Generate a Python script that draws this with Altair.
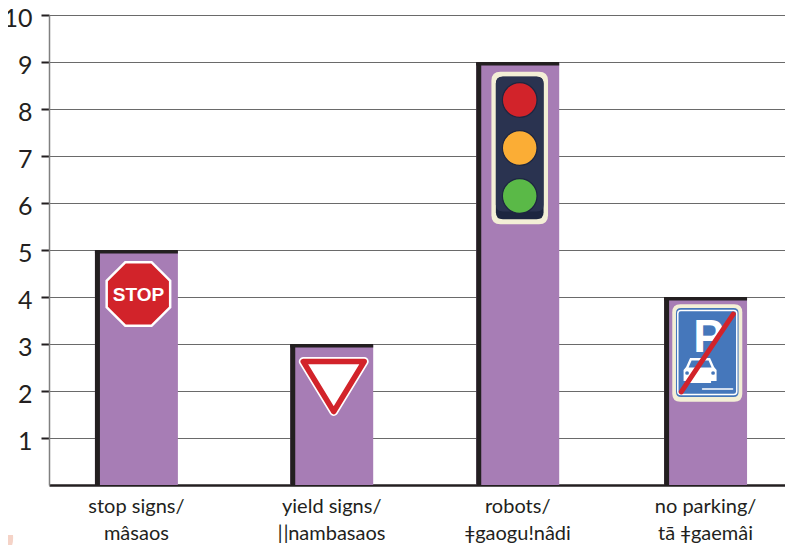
import altair as alt
import pandas as pd

categories = ["stop", "yield", "robots", "parking"]
label_line1 = ["stop signs/", "yield signs/", "robots/", "no parking/"]
label_line2 = ["mâsaos", "ǁnambasaos", "ǂgaogu!nâdi", "tā ǂgaemâi"]
counts = [5, 3, 9, 4]
slots = [0, 1.05, 2.05, 3.06]
y_ticks = list(range(1, 11))

df = pd.DataFrame({"category": categories, "l1": label_line1, "l2": label_line2,
                   "value": counts, "slot": slots})

PLOT_W = 736
STEP = 186
XS = alt.Scale(domain=[-0.47, -0.47 + PLOT_W / STEP], nice=False, zero=False)
YS = alt.Scale(domain=[0, 10], nice=False)
HALF = 0.223
INK = "#231f20"
PURPLE = "#a77db5"
RED = "#d2232a"
FONT = "Lato"

X_AXIS = alt.Axis(title=None, labels=False, ticks=False, grid=False,
                  domainColor=INK, domainWidth=2.5)
Y_AXIS = alt.Axis(title=None, values=y_ticks, grid=True, gridColor="#6a6a6a", gridWidth=1.2,
                  tickColor=INK, tickWidth=2, tickSize=8, labelPadding=9, labelOffset=3,
                  labelBound=False, labelOverlap=False,
                  domainColor="#808080", domainWidth=1.5,
                  labelFont=FONT, labelFontSize=25, labelColor=INK, labelFontWeight=400)

X = alt.X("slot:Q", scale=XS, axis=X_AXIS)
Y = alt.Y("value:Q", scale=YS, axis=Y_AXIS)
base = alt.Chart(df)


def rrect(w, h, r):
    a, b = w / 2, h / 2
    return (f"M{-a+r},{-b}L{a-r},{-b}Q{a},{-b} {a},{-b+r}L{a},{b-r}Q{a},{b} {a-r},{b}"
            f"L{-a+r},{b}Q{-a},{b} {-a},{b-r}L{-a},{-b+r}Q{-a},{-b} {-a+r},{-b}Z")


def octagon(w):
    a, c = w / 2, w * 0.207
    return f"M{-c},{-a}L{c},{-a}L{a},{-c}L{a},{c}L{c},{a}L{-c},{a}L{-a},{c}L{-a},{-c}Z"


def icon(cat, shape, dx, dy, fill=None, stroke=None, sw=0, size=4):
    props = dict(shape=shape, size=size, opacity=1, xOffset=dx, yOffset=dy,
                 filled=fill is not None, strokeWidth=sw, strokeJoin="round", strokeCap="round")
    if fill is not None:
        props["fill"] = fill
    props["stroke"] = stroke if stroke else "transparent"
    return base.transform_filter(alt.datum.category == cat).mark_point(**props).encode(x=X, y=Y)


def icon_text(cat, text, dx, dy, size, font, color="white", weight="bold"):
    return base.transform_filter(alt.datum.category == cat).mark_text(
        text=text, dx=dx, dy=dy, fontSize=size, font=font, color=color, fontWeight=weight,
        baseline="alphabetic", align="center").encode(x=X, y=Y)


geo = base.transform_calculate(left=f"datum.slot-{HALF}", right=f"datum.slot+{HALF}", zero="0")
LX = alt.X("left:Q", scale=XS, axis=X_AXIS)
bars = geo.mark_rect(color=PURPLE).encode(x=LX, x2="right:Q", y=Y, y2="zero:Q")
edge_left = geo.mark_rule(color=INK, strokeWidth=5, xOffset=2.5).encode(x=LX, y=Y, y2="zero:Q")
edge_top = geo.mark_rule(color=INK, strokeWidth=3.5, yOffset=1.7).encode(x=LX, x2="right:Q", y=Y)

ZERO = alt.datum(0, scale=YS, axis=Y_AXIS)
line1 = base.mark_text(font=FONT, fontSize=20, color=INK, dy=22).encode(x=X, y=ZERO, text="l1:N")
line2 = base.mark_text(font=FONT, fontSize=20, color=INK, dy=49).encode(x=X, y=ZERO, text="l2:N")

layers = [bars, edge_left, edge_top, line1, line2]

# stop sign
layers += [
    icon("stop", octagon(66), 2, 44, fill="white"),
    icon("stop", octagon(61), 2, 44, fill=RED),
    icon_text("stop", "STOP", 2, 51, 19, "Liberation Sans"),
]

# yield sign
tri = "M-30.5,0L30.5,0L0,50Z"
layers += [
    icon("yield", tri, 2, 17.5, fill="white", stroke="white", sw=9),
    icon("yield", tri, 2, 17.5, fill="white", stroke=RED, sw=5.5),
]

# traffic light
layers += [
    icon("robots", rrect(56.6, 152.6, 9), 2, 86, fill="#f3efd6"),
    icon("robots", rrect(47.7, 142.6, 7), 2, 86, fill="#1d2640"),
    icon("robots", rrect(47.7, 135, 7), 2, 82, fill="#2a3350"),
    icon("robots", "circle", 2, 38, fill=RED, stroke="#1d2640", sw=1.2, size=1200),
    icon("robots", "circle", 2, 86, fill="#fbad35", stroke="#1d2640", sw=1.2, size=1200),
    icon("robots", "circle", 2, 134, fill="#5ab947", stroke="#1d2640", sw=1.2, size=1200),
]

# no parking sign
car = ("M-10,-12L10,-12L14,-3L16.5,0L16.5,11L11,11L11,13L-11,13L-11,11L-16.5,11L-16.5,0L-14,-3Z")
window = "M-8.5,-9.5L8.5,-9.5L11.5,-2.5L-11.5,-2.5Z"
ground = "M-6,0L24,0"
diag = "M-26,38.85L26,-38.85"
lamp = "circle"
layers += [
    icon("parking", rrect(70, 97.4, 8), 1.7, 56, fill="#f3efd6"),
    icon("parking", rrect(62.6, 89, 5), 1.7, 55.5, fill="#4577bb"),
    icon("parking", rrect(59, 84, 3), 1.7, 55.5, stroke="white", sw=1.5),
    icon_text("parking", "P", 3, 54.5, 46, "Liberation Sans"),
    icon("parking", car, -5.5, 73, fill="white"),
    icon("parking", window, -5.5, 73, fill="#4577bb"),
    icon("parking", lamp, -18.5, 76, fill="#4577bb", size=14),
    icon("parking", lamp, 7.5, 76, fill="#4577bb", size=14),
    icon("parking", ground, 3, 92, stroke="white", sw=1.5),
    icon("parking", diag, 1.7, 56, stroke=RED, sw=5),
]

# corner decoration of the page
blob = "M-49,0L-36,0Q-35,12 -42,18L-49,18Z"
layers.append(base.transform_filter(alt.datum.category == "stop").mark_point(
    shape=blob, size=4, filled=True, fill="#f5d3c7", opacity=1, strokeWidth=0, clip=False
).encode(x=alt.value(0), y=alt.value(520)))

chart = alt.layer(*layers).properties(
    width=PLOT_W, height=470,
    padding={"left": 41, "top": 7, "right": 0, "bottom": 60},
    autosize=alt.AutoSizeParams(type="none"),
    background="white",
).configure_view(stroke=None)

chart.save("out.html", embed_options={"renderer": "svg", "actions": False})
